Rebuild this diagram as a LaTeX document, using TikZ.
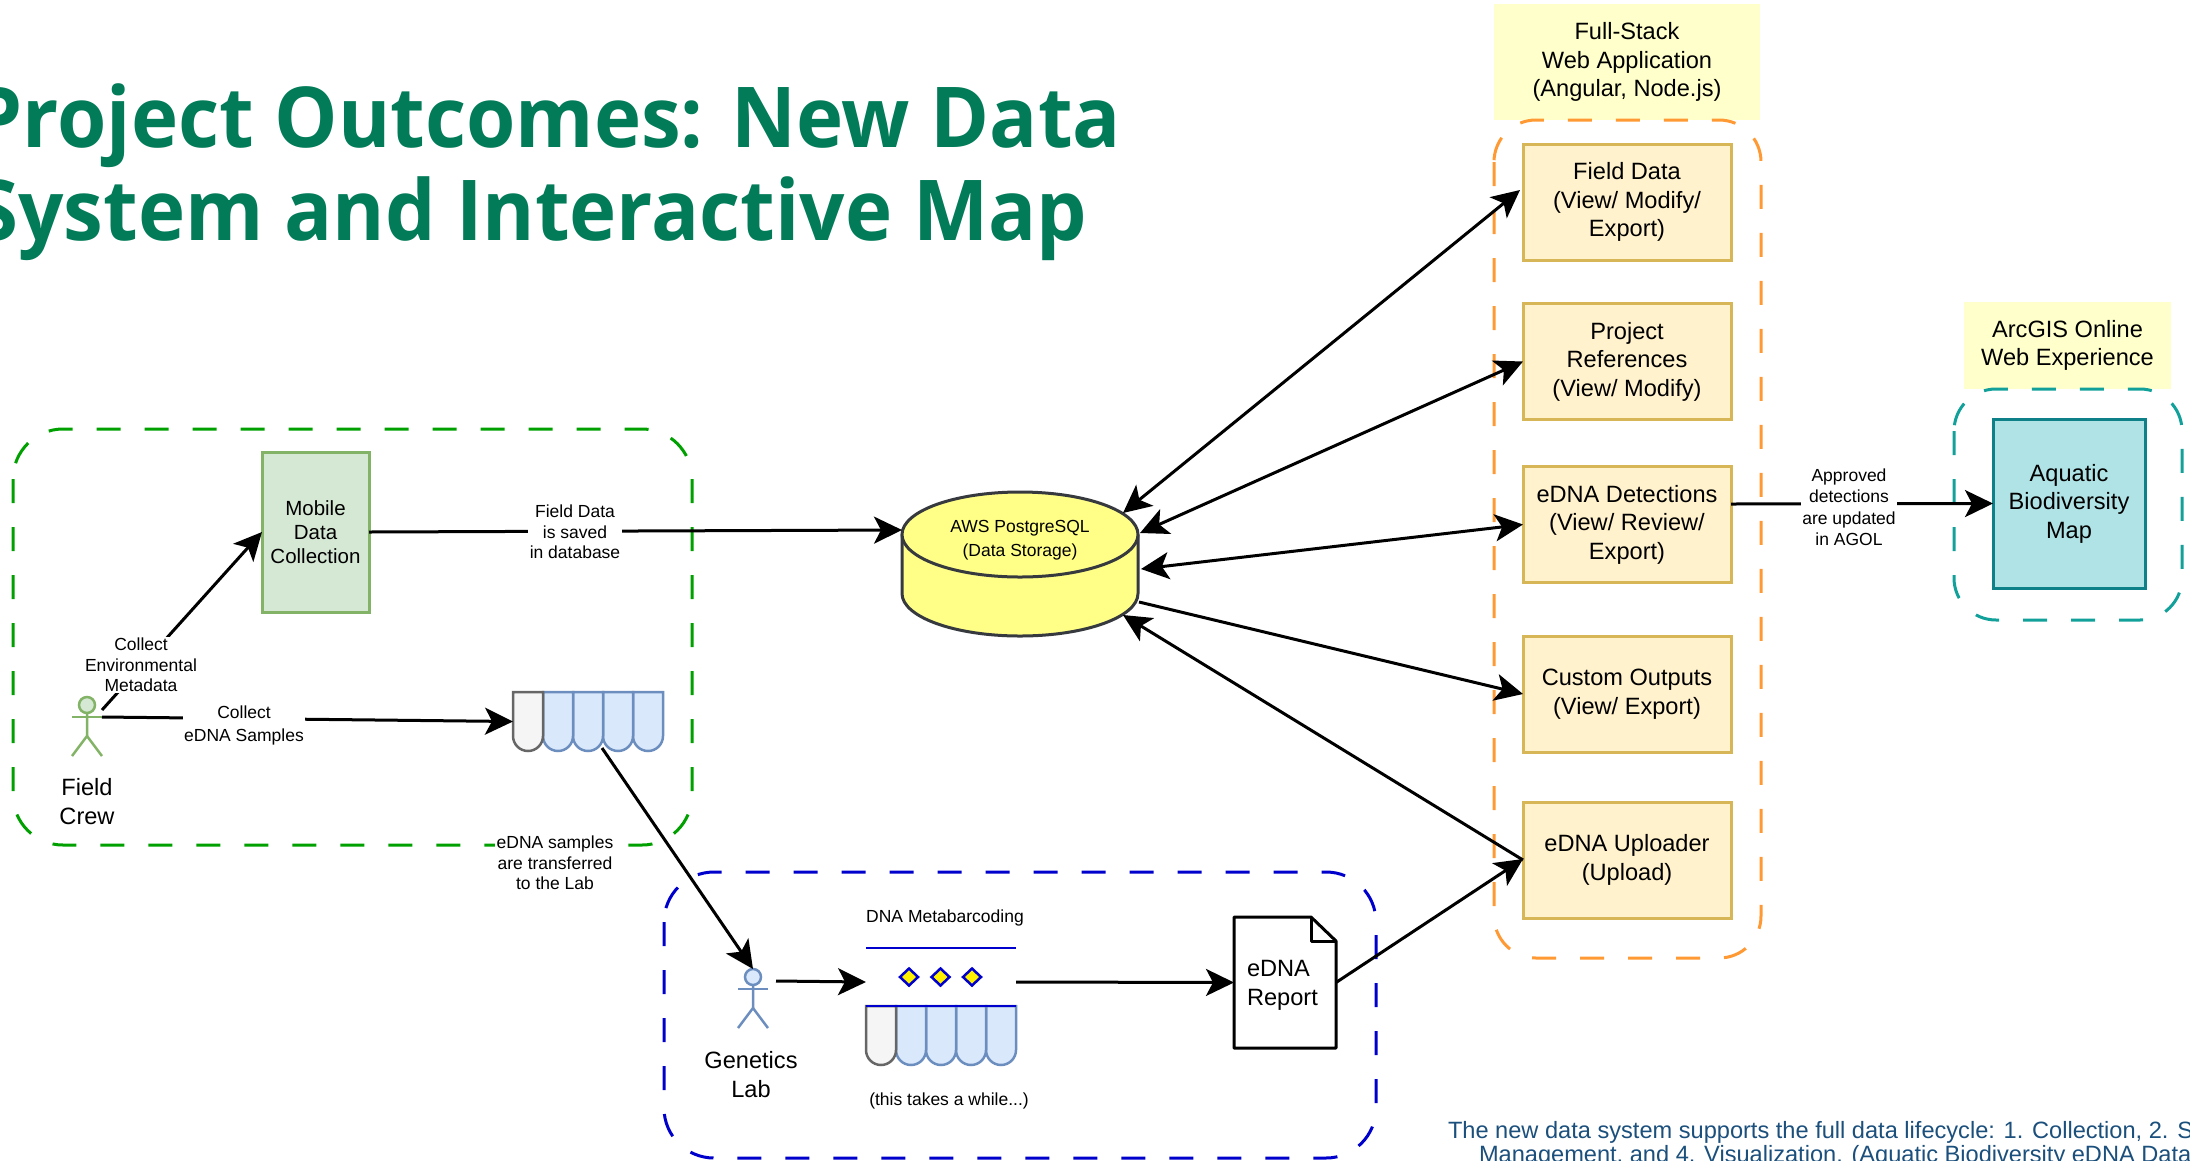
\documentclass[tikz,border=0pt]{standalone}
\usepackage{fontspec}
\usetikzlibrary{arrows.meta}
\setmainfont{Liberation Sans}
\newfontfamily\titlefont[FakeStretch=0.95]{Open Sans}

\definecolor{titlegreen}{HTML}{027B58}
\definecolor{footblue}{HTML}{1B4F7C}
\definecolor{crewgreen}{HTML}{00A000}
\definecolor{labblue}{HTML}{0000CC}
\definecolor{weborange}{HTML}{FF9933}
\definecolor{mapteal}{HTML}{12A19A}
\definecolor{notefill}{HTML}{FFFFCC}
\definecolor{appfill}{HTML}{FFF2CC}
\definecolor{appline}{HTML}{D6B656}
\definecolor{mobilefill}{HTML}{D5E8D4}
\definecolor{mobileline}{HTML}{82B366}
\definecolor{tubefill}{HTML}{DAE8FC}
\definecolor{tubeline}{HTML}{6C8EBF}
\definecolor{mapfill}{HTML}{B0E3E6}
\definecolor{mapline}{HTML}{0E8088}
\definecolor{dbfill}{HTML}{FFFF88}
\definecolor{dbline}{HTML}{36393D}

\tikzset{
    bigtext/.style={font=\fontsize{23.6}{28.5}\selectfont, execute at begin node={\rule{0pt}{21.5pt}}},
    smalltext/.style={font=\fontsize{17.5}{20.5}\selectfont},
    edgelabel/.style={smalltext, fill=white, inner sep=1.5pt},
    dashbox/.style={line width=3pt, rounded corners=42pt, dash pattern=on 24pt off 24pt},
    notebox/.style={fill=notefill, draw=none, inner sep=0pt, bigtext},
    appbox/.style={draw=appline, fill=appfill, line width=3pt, minimum width=208pt, minimum height=116pt, bigtext},
    link/.style={line width=3pt, >={Stealth[length=28pt, width=27pt, inset=7pt]}},
    whitetube/.style={draw=black!60, fill=black!4, line width=2.5pt},
    bluetube/.style={draw=tubeline, fill=tubefill, line width=2.5pt},
}

\newcommand{\tuberack}[2]{
    \foreach \i in {4,3,2,1}
        \draw[bluetube] (#1+30*\i,#2) -- ++(30,0) -- ++(0,44) arc (0:180:15 and 15) -- cycle;
    \draw[whitetube] (#1,#2) -- ++(30,0) -- ++(0,44) arc (0:180:15 and 15) -- cycle;
}
\newcommand{\actorfig}[5]{
    \node[circle, draw=#4, fill=#5, line width=2.5pt, inner sep=0pt, minimum size=16pt] (#1) at (#2,#3) {};
    \draw[draw=#4, line width=2.5pt] (#1.south) -- (#2,#3+31) -- (#2-15,#3+51);
    \draw[draw=#4, line width=2.5pt] (#2,#3+31) -- (#2+15,#3+51);
    \draw[draw=#4, line width=2.5pt] (#2-15,#3+12) -- (#2+15,#3+12);
}

\begin{document}
\begin{tikzpicture}[x=1pt, y=-1pt, every node/.style={align=center, outer sep=0pt, text=black}]
            \useasboundingbox (0,0) rectangle (2190,1160);
            \clip (0,0) rectangle (2190,1160);

            \node[anchor=base east, inner sep=0pt, text=titlegreen, font=\titlefont\bfseries\fontsize{84}{90}\selectfont] (titleone) at (1121,147) {Project Outcomes: New Data};
            \node[anchor=base east, inner sep=0pt, text=titlegreen, font=\titlefont\bfseries\fontsize{84}{90}\selectfont] (titletwo) at (1087,240) {System and Interactive Map};

            \node[notebox, minimum width=266pt, minimum height=116pt] (webnote) at (1627,62) {Full-Stack\\Web Application\\(Angular, Node.js)};
            \node[notebox, minimum width=207pt, minimum height=87pt] (mapnote) at (2067.5,345.5) {ArcGIS Online\\Web Experience};

            \draw[dashbox, rounded corners=50pt, crewgreen] (13,429) rectangle (692,845);
            \draw[dashbox, rounded corners=50pt, labblue] (664,872) rectangle (1376,1158);
            \draw[dashbox, weborange] (1494,120) rectangle (1761,958);
            \draw[dashbox, mapteal] (1954,389) rectangle (2182,620);

            \node[draw=mobileline, fill=mobilefill, line width=3pt, minimum width=107pt, minimum height=160pt, font=\fontsize{20.5}{24}\selectfont] (mobile) at (315.5,532) {Mobile\\Data\\Collection};

            \actorfig{crew}{87}{705}{mobileline}{mobilefill}
            \node[font=\fontsize{23.6}{29}\selectfont] (crewlabel) at (87,802) {Field\\Crew};

            \tuberack{513}{692}
            \node[minimum width=149pt, minimum height=59pt] (samples) at (587.5,721.5) {};
            \coordinate (crewhand) at (102,717);
            \coordinate (crewarm) at (102,710);
            \coordinate (samplesout) at (602,748);

            \actorfig{lab}{753}{977}{tubeline}{tubefill}
            \node[font=\fontsize{23.6}{29}\selectfont] (lablabel) at (751,1075) {Genetics\\Lab};
            \coordinate (labhand) at (776,981);

            \node[minimum width=150pt] (barcoding) at (941,982) {};
            \node[smalltext] (barcodetitle) at (945,918) {DNA Metabarcoding};
            \node[smalltext] (barcodenote) at (949,1101) {(this takes a while...)};
            \draw[labblue, line width=2.5pt] (866,948) -- (1016,948);
            \foreach \x in {909,940.5,972}
                \draw[labblue, fill=yellow, line width=2.5pt] (\x-9,977) -- (\x,968.5) -- (\x+9,977) -- (\x,985.5) -- cycle;
            \tuberack{866}{1006}
            \draw[labblue, line width=2.5pt] (866,1006) -- (1016,1006);

            \node[minimum width=102pt, minimum height=131pt, text width=76pt, align=left, inner sep=0pt, bigtext, font=\fontsize{23.6}{29}\selectfont] (report) at (1285,982.5) {eDNA\\Report};
            \draw[line width=3pt, line join=round] (report.north west) -- (1311,917) -- (report.north east |- 0,941) -- (report.south east) -- (report.south west) -- cycle;
            \draw[line width=3pt, line join=round] (1311,917) -- (1311,941) -- (1336,941);

            \draw[draw=dbline, fill=dbfill, line width=3pt] (902,534.5) -- (902,593.5) arc (180:0:118 and 42.5) -- (1138,534.5);
            \draw[draw=dbline, fill=dbfill, line width=3pt] (1020,534.5) ellipse (118 and 42.5);
            \node[font=\fontsize{17.5}{24.5}\selectfont] (db) at (1020,540) {AWS PostgreSQL\\(Data Storage)};
            \coordinate (dbfield) at (1123,513);
            \coordinate (dbrefs) at (1140,533);
            \coordinate (dbdetect) at (1141,569);
            \coordinate (dbcustom) at (1139,602);
            \coordinate (dbupload) at (1123,615);
            \coordinate (dbleft) at (902,530);

            \node[appbox] (fielddata) at (1627,202) {Field Data\\(View/ Modify/\\Export)};
            \node[appbox] (refs) at (1627,361.5) {Project\\References\\(View/ Modify)};
            \node[appbox] (detect) at (1627,524.5) {eDNA Detections\\(View/ Review/\\Export)};
            \node[appbox] (custom) at (1627,694) {Custom Outputs\\(View/ Export)};
            \node[appbox] (upload) at (1627,860) {eDNA Uploader\\(Upload)};

            \node[draw=mapline, fill=mapfill, line width=3pt, minimum width=152pt, minimum height=169pt, bigtext] (map) at (2069,503.5) {Aquatic\\Biodiversity\\Map};

            \draw[->, link] (crewarm) -- (mobile.west);
            \draw[->, link] (crewhand) -- (samples.west);
            \draw[->, link] (mobile.east) -- (dbleft);
            \draw[->, link] (samplesout) -- (lab.north);
            \draw[->, link] (labhand) -- (barcoding.west);
            \draw[->, link] (barcoding.east) -- (report.west);
            \draw[->, link] (report.east) -- ([yshift=1pt]upload.west);
            \draw[<->, link] (dbfield) -- ([yshift=12pt, xshift=-3pt]fielddata.west);
            \draw[<->, link] (dbrefs) -- (refs.west);
            \draw[<->, link] (dbdetect) -- (detect.west);
            \draw[->, link] (dbcustom) -- (custom.west);
            \draw[->, link] (upload.west) -- (dbupload);
            \draw[->, link] (detect.east |- 0,504) -- (map.west);

            \node[edgelabel] (labelenv) at (141,665) {Collect\\Environmental\\Metadata};
            \node[edgelabel, font=\fontsize{17.5}{23}\selectfont] (labelcollect) at (244,725) {Collect\\eDNA Samples};
            \node[edgelabel] (labelsaved) at (575,532) {Field Data\\is saved\\in database};
            \node[edgelabel] (labeltransfer) at (555,863) {eDNA samples\\are transferred\\to the Lab};
            \node[edgelabel, font=\fontsize{17.5}{21.5}\selectfont] (labelagol) at (1849,507) {Approved\\detections\\are updated\\in AGOL};

            \node[anchor=west, text=footblue, font=\fontsize{23.6}{27}\selectfont, inner sep=0pt] (footone) at (1448,1132) {The new data system supports the full data lifecycle: 1. Collection, 2. S};
            \node[anchor=west, text=footblue, font=\fontsize{23.6}{27}\selectfont, inner sep=0pt] (foottwo) at (1479,1156) {Management, and 4. Visualization. (Aquatic Biodiversity eDNA Data};
        \end{tikzpicture}
\end{document}
